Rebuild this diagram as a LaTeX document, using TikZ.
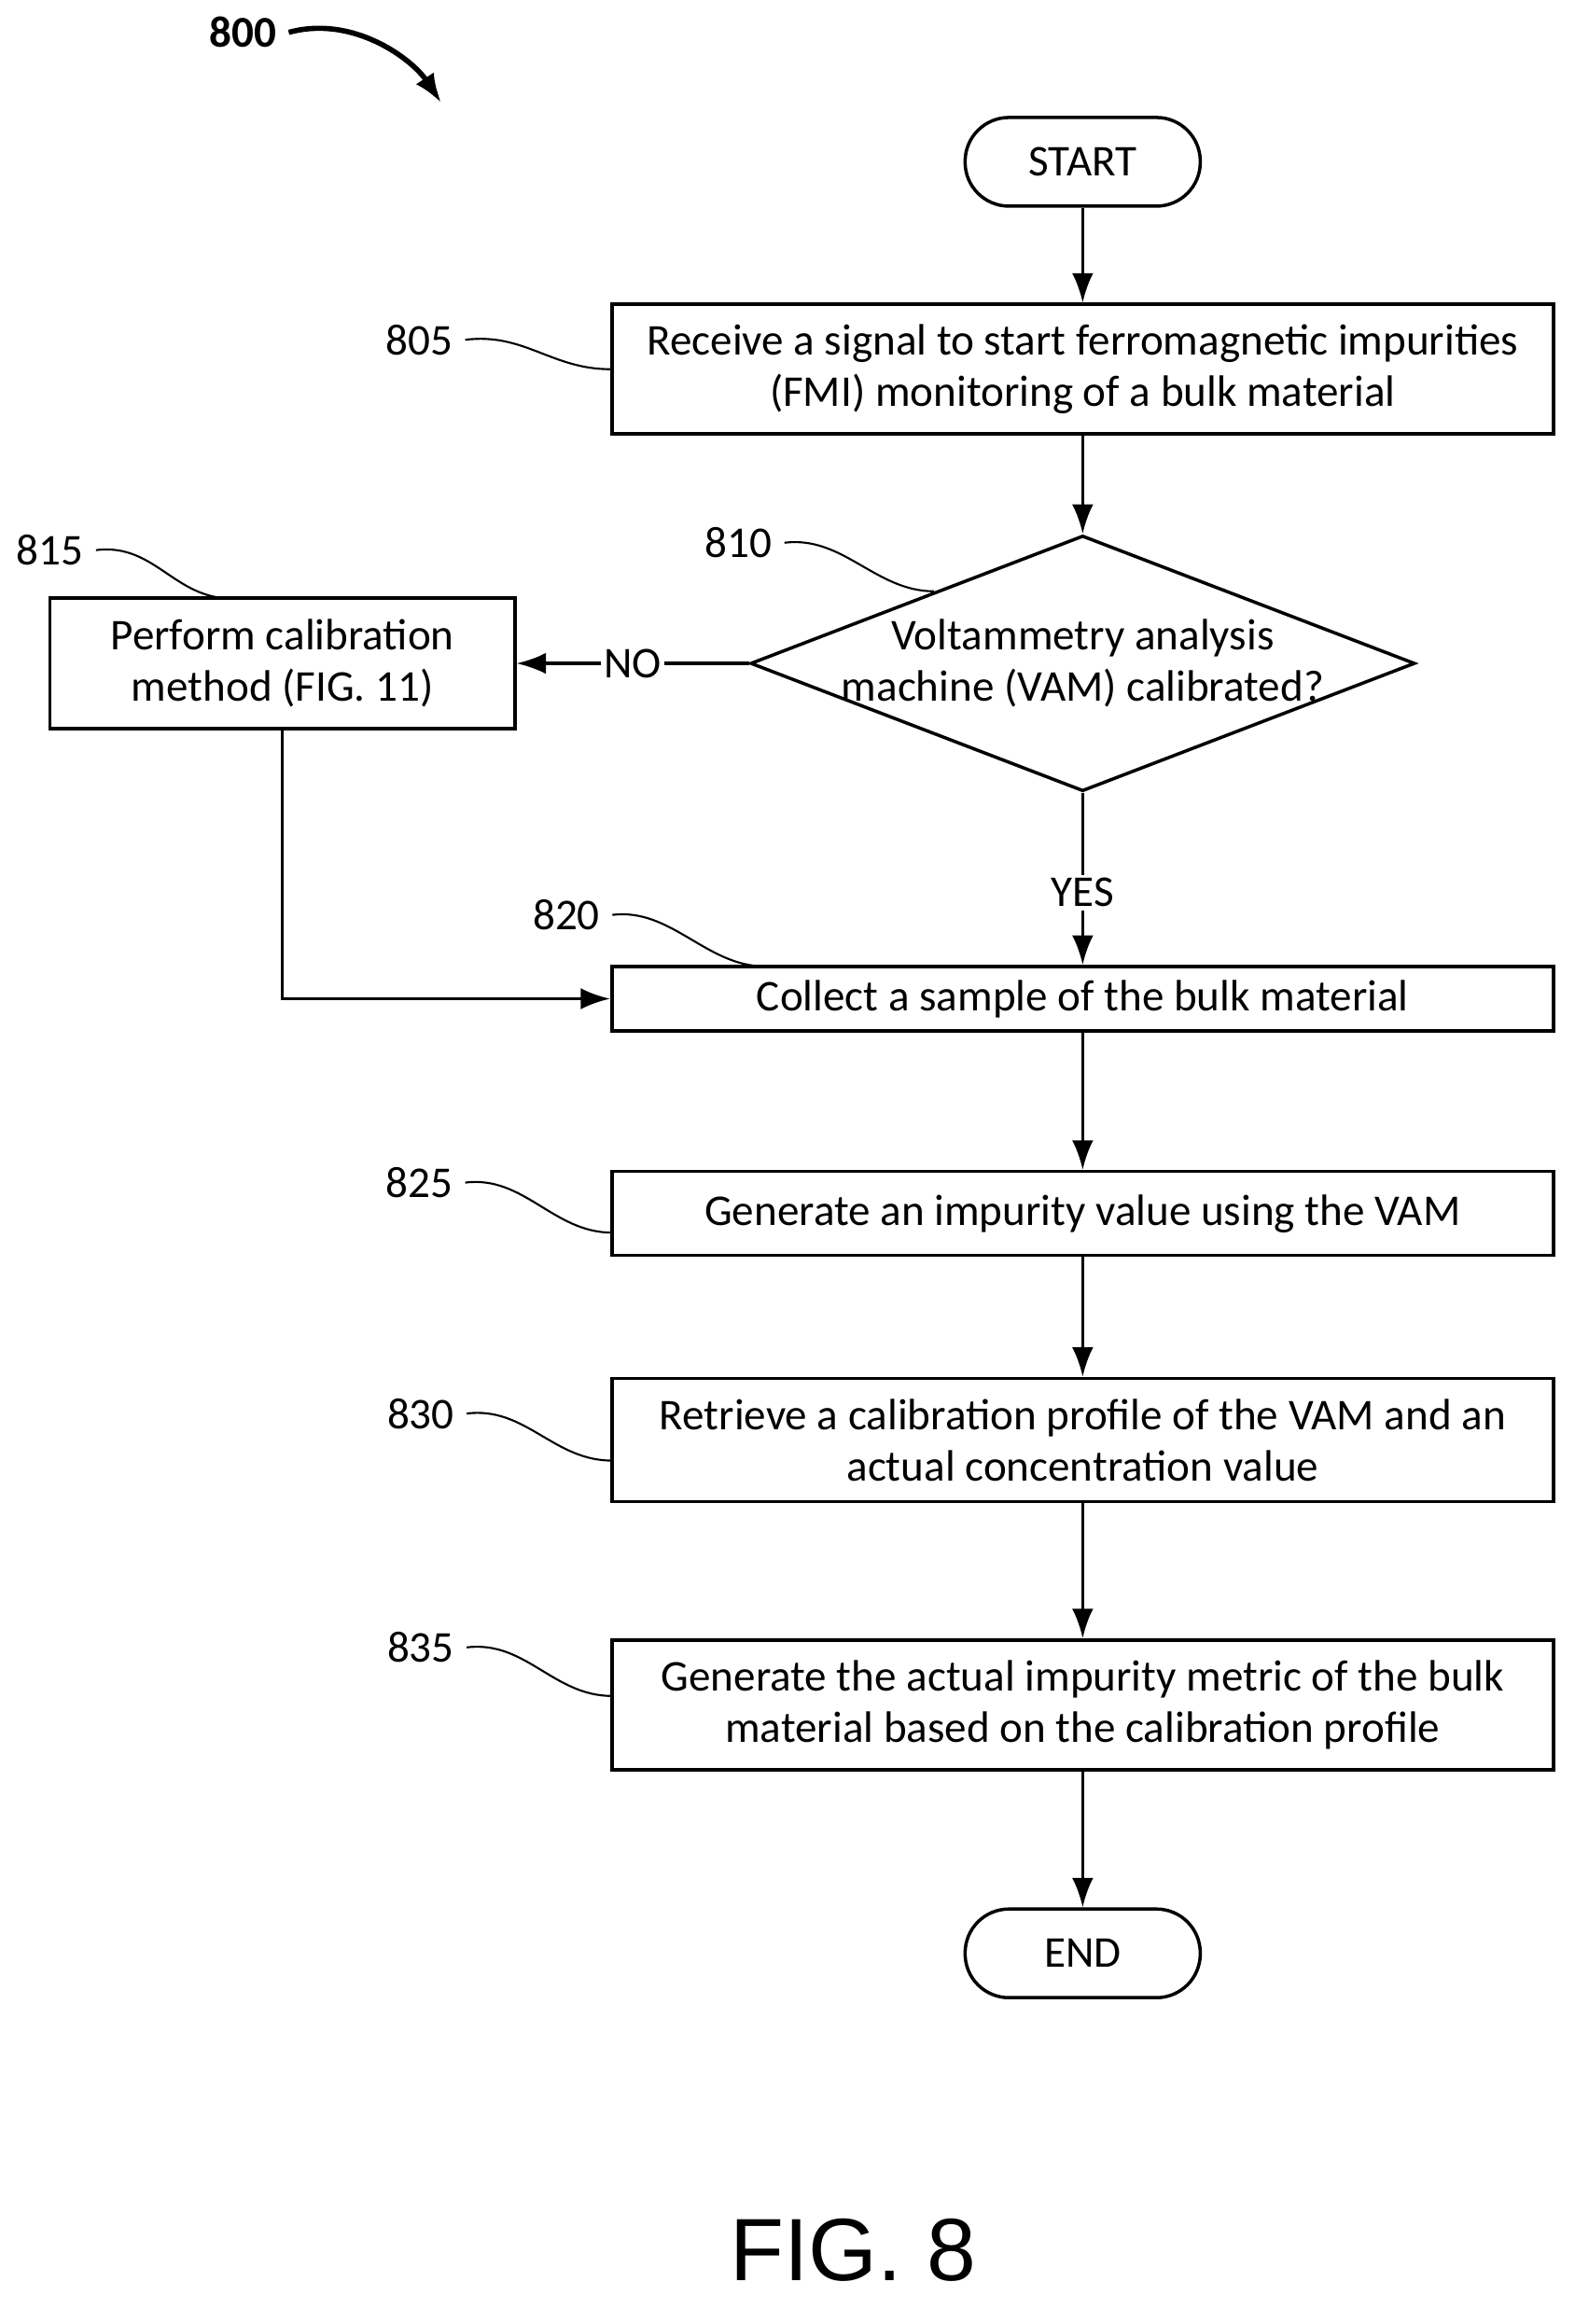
\documentclass[tikz,border=0pt]{standalone}
\usepackage{fontspec}
\setmainfont{Carlito}
\newfontfamily\figfont{Liberation Sans}
\usetikzlibrary{arrows.meta, shapes.geometric}

\begin{document}
\begin{tikzpicture}[x=0.01576cm, y=-0.01576cm, >={Latex[length=9pt,width=6.5pt]},
  font=\fontsize{13.4}{15.7}\selectfont, line width=1pt,
  box/.style={draw, rectangle, align=center, minimum width=10.09cm, inner sep=0pt},
  term/.style={draw, rectangle, rounded corners=0.47cm, minimum width=2.52cm, minimum height=0.95cm},
  wave/.style={line width=0.6pt}]

\useasboundingbox (0,0) rectangle (1080,1580);

%nodes
\node[term] (start) at (736,110) {START};
\node[box, minimum height=1.39cm] (b805) at (736,251) {Receive a signal to start ferromagnetic impurities\\(FMI) monitoring of a bulk material};
\node[draw, diamond, aspect=2.6, minimum width=7.12cm, minimum height=2.74cm, inner sep=0pt] (d810) at (736,451) {};
\node[align=center] at (d810) {Voltammetry analysis\\machine (VAM) calibrated?};
\node[box, minimum width=4.98cm, minimum height=1.40cm] (b815) at (192,451) {Perform calibration\\method (FIG. 11)};
\node[box, minimum height=0.69cm] (b820) at (736,679) {Collect a sample of the bulk material};
\node[box, minimum height=0.90cm] (b825) at (736,825) {Generate an impurity value using the VAM};
\node[box, minimum height=1.32cm] (b830) at (736,979) {Retrieve a calibration profile of the VAM and an\\actual concentration value};
\node[box, minimum height=1.39cm] (b835) at (736,1159) {Generate the actual impurity metric of the bulk\\material based on the calibration profile};
\node[term] (end) at (736,1328) {END};

%connectors
\draw[->] (start) -- (b805);
\draw[->] (b805) -- (d810);
\draw[->] (d810.west) -- node[fill=white, inner sep=1pt] {NO} (b815.east);
\draw[->] (d810.south) -- node[pos=0.58, fill=white, inner sep=1pt] {YES} (b820.north);
\draw[->] (b815.south) |- (b820.west);
\draw[->] (b820) -- (b825);
\draw[->] (b825) -- (b830);
\draw[->] (b830) -- (b835);
\draw[->] (b835) -- (end);

%reference numerals
\node (n800) at (165,22) {\bfseries 800};
\coordinate (a800) at (300,70);
\draw[->, line width=1.6pt] (n800.east) .. controls (240,10) and (280,40) .. (a800);

\node (n805) at (285,231) {805};
\draw[wave] (n805.east) .. controls +(40,-5) and +(-40,0) .. (b805.west);
\node (n815) at (34,374) {815};
\draw[wave] (n815.east) .. controls +(40,-5) and +(-40,0) .. (158,407);
\node (n810) at (502,369) {810};
\draw[wave] (n810.east) .. controls +(40,-5) and +(-40,0) .. (635,402);
\node (n820) at (385,622) {820};
\draw[wave] (n820.east) .. controls +(40,-5) and +(-40,0) .. (520,657);
\node (n825) at (285,804) {825};
\draw[wave] (n825.east) .. controls +(40,-5) and +(-40,0) .. (416,838);
\node (n830) at (286,961) {830};
\draw[wave] (n830.east) .. controls +(40,-5) and +(-40,0) .. (416,993);
\node (n835) at (286,1120) {835};
\draw[wave] (n835.east) .. controls +(40,-5) and +(-40,0) .. (416,1153);

\node[font=\figfont\fontsize{27}{30}\selectfont] (fig) at (580,1530) {FIG. 8};

\end{tikzpicture}
\end{document}
